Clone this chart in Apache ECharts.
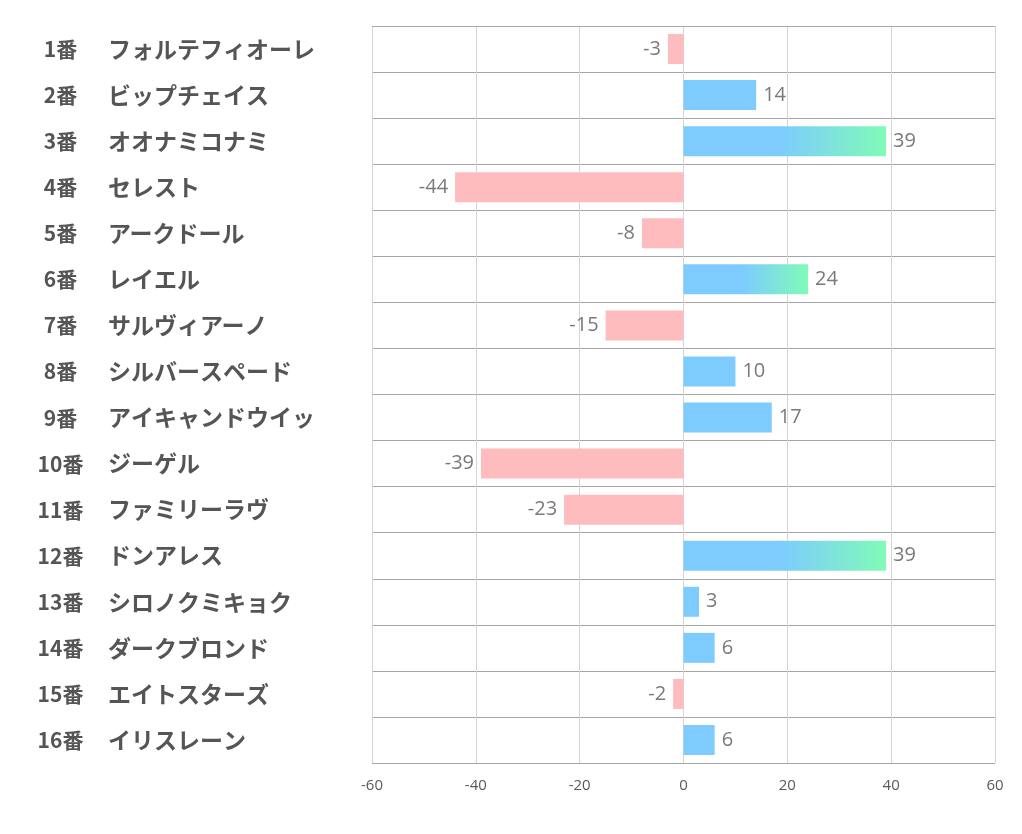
<!DOCTYPE html>
<html><head><meta charset="utf-8">
<script src="https://cdn.jsdelivr.net/npm/echarts@6/dist/echarts.min.js"></script>
<style>html,body{margin:0;padding:0;background:#fff}#c{width:1022px;height:834px}</style>
</head><body><div id="c"></div>
<script>
const numbers = ['1番','2番','3番','4番','5番','6番','7番','8番','9番','10番','11番','12番','13番','14番','15番','16番'];
const names = ['フォルテフィオーレ','ビップチェイス','オオナミコナミ','セレスト','アークドール','レイエル','サルヴィアーノ','シルバースペード','アイキャンドウイッ','ジーゲル','ファミリーラヴ','ドンアレス','シロノクミキョク','ダークブロンド','エイトスターズ','イリスレーン'];
const values = [-3,14,39,-44,-8,24,-15,10,17,-39,-23,39,3,6,-2,6];
const xTicks = [-60,-40,-20,0,20,40,60];

const BLUE = '#7dcbff', GREEN = '#80fbb8', PINK = '#ffbcbe';
const data = values.map(v => {
  let color;
  if (v < 0) color = PINK;
  else if (v >= 20) color = new echarts.graphic.LinearGradient(0,0,1,0,[{offset:0,color:BLUE},{offset:0.47,color:BLUE},{offset:1,color:GREEN}]);
  else color = BLUE;
  return {value: v, itemStyle:{color}, label:{position: v < 0 ? 'left' : 'right'}};
});

const chart = echarts.init(document.getElementById('c'));
chart.setOption({
  animation:false,
  grid:{left:372,right:27,top:26,bottom:71},
  xAxis:{type:'value',min:xTicks[0],max:xTicks[xTicks.length-1],interval:20,
    axisLine:{show:false},axisTick:{show:false},
    splitLine:{lineStyle:{color:'#d4d4d4',width:1}},
    axisLabel:{color:'#595959',fontSize:15,margin:15,fontFamily:'Open Sans'}},
  yAxis:{type:'category',data:numbers,inverse:true,
    axisLine:{show:true,lineStyle:{color:'#d4d4d4'}},axisTick:{show:false},
    splitLine:{show:true,lineStyle:{color:'#a6a6a6',width:1}},
    axisLabel:{align:'left',margin:335,
      formatter:(val,i)=>'{a|'+val+'}{b|'+names[i]+'}',
      rich:{
        a:{width:47,align:'right',fontSize:21,fontWeight:'bold',color:'#555',fontFamily:'Noto Sans CJK JP'},
        b:{padding:[0,0,0,24],fontSize:23,fontWeight:'bold',color:'#555',fontFamily:'Noto Sans CJK JP'}
      }}},
  series:[{type:'bar',data:data,barWidth:30,
    label:{show:true,distance:7,color:'#7a7a7a',fontSize:20,fontFamily:'Open Sans'}}],
  graphic:[
    {type:'line',shape:{x1:372,y1:26.5,x2:995,y2:26.5},style:{stroke:'#a6a6a6',lineWidth:1},z:10},
    {type:'line',shape:{x1:372,y1:763.5,x2:995,y2:763.5},style:{stroke:'#a6a6a6',lineWidth:1},z:10}
  ]
});
</script></body></html>
